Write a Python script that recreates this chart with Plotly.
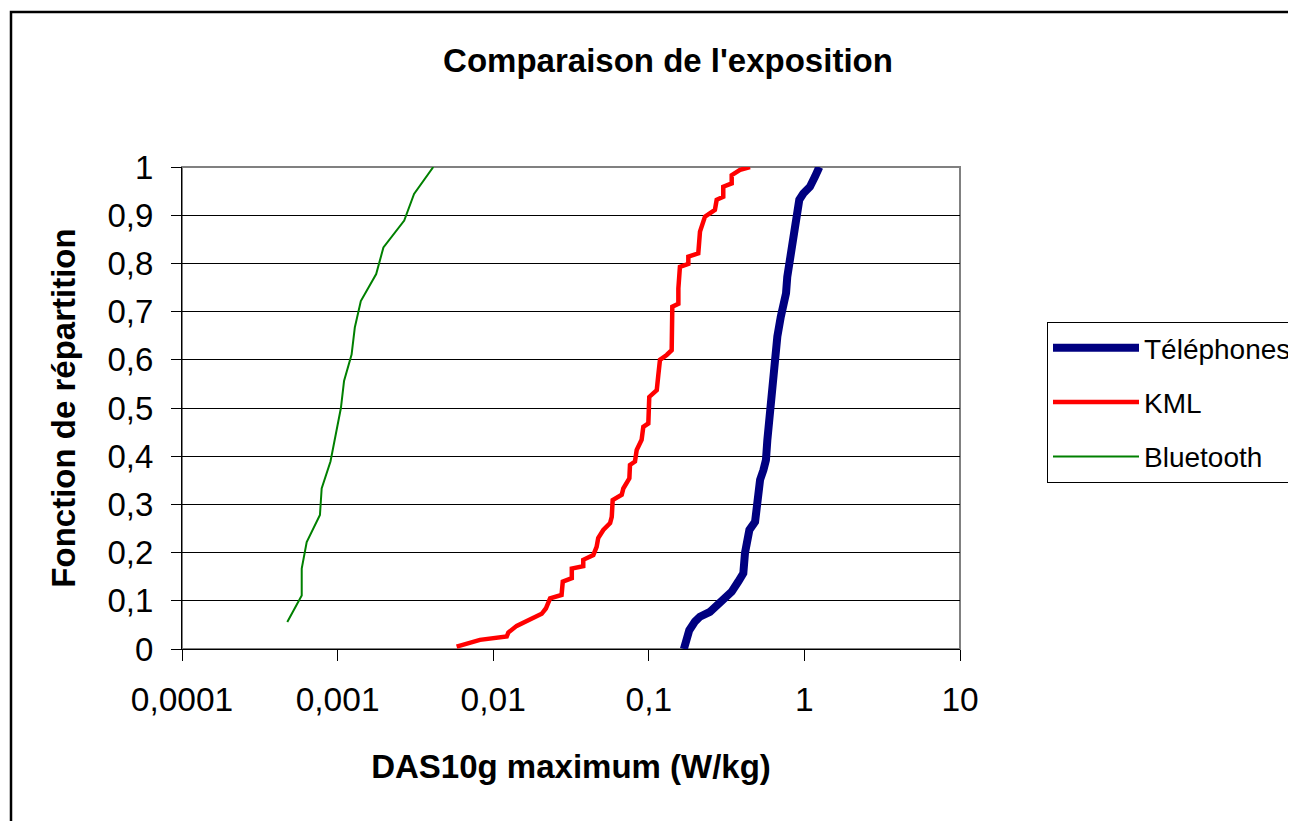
import plotly.graph_objects as go

# ---- data ----
series_names = ["Téléphones", "KML", "Bluetooth"]

tel_x = [0.168, 0.1754, 0.182, 0.198, 0.213, 0.247, 0.266, 0.301, 0.341, 0.376,
         0.405, 0.415, 0.430, 0.443, 0.482, 0.501, 0.519, 0.545, 0.566, 0.578,
         0.601, 0.617, 0.638, 0.647, 0.670, 0.705, 0.731, 0.762, 0.776, 0.800,
         0.820, 0.841, 0.871, 0.900, 0.927, 0.984, 1.086, 1.17, 1.247]
tel_y = [0.0, 0.019, 0.039, 0.057, 0.067, 0.077, 0.088, 0.102, 0.119, 0.140,
         0.157, 0.199, 0.219, 0.247, 0.264, 0.309, 0.351, 0.371, 0.392, 0.434,
         0.503, 0.544, 0.586, 0.606, 0.648, 0.689, 0.710, 0.738, 0.772, 0.800,
         0.821, 0.849, 0.880, 0.911, 0.932, 0.945, 0.959, 0.980, 1.0]

kml_x = [0.00582, 0.00822, 0.01222, 0.0125, 0.01416, 0.0172, 0.0205, 0.0218, 0.0232, 0.0275,
         0.0280, 0.0320, 0.0320, 0.0379, 0.0379, 0.0440, 0.0462, 0.0473, 0.0510, 0.0564,
         0.0578, 0.0586, 0.0670, 0.0686, 0.0750, 0.0757, 0.0815, 0.0836, 0.0899, 0.0922,
         0.0993, 0.1007, 0.1125, 0.1151, 0.118, 0.1303, 0.1403, 0.1416, 0.1549, 0.1549,
         0.1585, 0.1795, 0.1795, 0.208, 0.2133, 0.2296, 0.266, 0.273, 0.301, 0.301,
         0.341, 0.341, 0.386, 0.447]
kml_y = [0.005, 0.019, 0.026, 0.034, 0.048, 0.060, 0.073, 0.084, 0.105, 0.112,
         0.140, 0.147, 0.167, 0.172, 0.185, 0.195, 0.212, 0.230, 0.247, 0.261,
         0.274, 0.309, 0.320, 0.333, 0.354, 0.382, 0.389, 0.413, 0.434, 0.461,
         0.468, 0.523, 0.537, 0.568, 0.600, 0.610, 0.620, 0.710, 0.716, 0.748,
         0.793, 0.799, 0.814, 0.821, 0.866, 0.897, 0.911, 0.932, 0.938, 0.959,
         0.966, 0.983, 0.994, 1.0]

bt_x = [0.000475, 0.000588, 0.000588, 0.000633, 0.00077, 0.00079, 0.00090, 0.00097, 0.00105,
        0.0011, 0.00123, 0.00129, 0.00141, 0.00177, 0.00197, 0.00268, 0.0031, 0.00412]
bt_y = [0.056, 0.111, 0.167, 0.222, 0.278, 0.333, 0.389, 0.444, 0.5,
        0.556, 0.611, 0.667, 0.722, 0.778, 0.833, 0.889, 0.944, 1.0]

x_tickvals = [0.0001, 0.001, 0.01, 0.1, 1, 10]
x_ticktext = ["0,0001", "0,001", "0,01", "0,1", "1", "10"]

title_text = "Comparaison de l'exposition"
x_title = "DAS10g maximum (W/kg)"
y_title = "Fonction de répartition"

FONT = "Liberation Sans, Arial, sans-serif"

fig = go.Figure()
fig.add_trace(go.Scatter(x=tel_x, y=tel_y, mode="lines", name=series_names[0],
                         line=dict(color="#000080", width=8), legendgroup="a"))
fig.add_trace(go.Scatter(x=kml_x, y=kml_y, mode="lines", name=series_names[1],
                         line=dict(color="#FF0000", width=4.5), legendgroup="b"))
fig.add_trace(go.Scatter(x=bt_x, y=bt_y, mode="lines", name=series_names[2],
                         line=dict(color="#008000", width=2), legendgroup="c"))

# page body has an 8px margin: the figure starts at (8, 8) in the window
OFF = 8
W, H = 1296 - OFF, 821 - OFF
L, R, T, B = 182 - OFF, 960 - OFF, 167 - OFF, 649 - OFF

def px(xp):
    return (xp - OFF - L) / (R - L)

def py(yp):
    return (B - (yp - OFF)) / (B - T)

fig.update_layout(
    width=W, height=H,
    margin=dict(l=L, r=W - R, t=T, b=H - B, autoexpand=False),
    paper_bgcolor="white", plot_bgcolor="white",
    separators=",.",
    font=dict(family=FONT, color="black", size=33),
    title=dict(text="<b>" + title_text + "</b>", x=(668 - OFF) / W, xanchor="center",
               y=1 - (60 - OFF) / H, yanchor="middle", yref="container",
               font=dict(size=33, family=FONT, color="black")),
    showlegend=True,
    legend=dict(x=px(1047), y=py(322), xanchor="left", yanchor="top",
                bordercolor="black", borderwidth=1, bgcolor="white",
                font=dict(size=28, family=FONT, color="black"),
                traceorder="grouped", tracegroupgap=15, itemwidth=86),
    xaxis=dict(type="log", range=[-4, 1], tickvals=x_tickvals, ticktext=x_ticktext,
               showgrid=False, zeroline=False, showline=True, linecolor="black", linewidth=1,
               ticks="outside", ticklen=11, tickcolor="black", tickwidth=1,
               ticklabelstandoff=10,
               tickfont=dict(size=33.5, family=FONT, color="black"),
               title=dict(text="<b>" + x_title + "</b>", standoff=37,
                          font=dict(size=33, family=FONT, color="black"))),
    yaxis=dict(range=[0, 1], dtick=0.1, tick0=0,
               showgrid=True, gridcolor="black", gridwidth=1, zeroline=False,
               showline=True, linecolor="black", linewidth=1,
               ticks="outside", ticklen=10, tickcolor="black", tickwidth=1,
               ticklabelstandoff=11,
               tickfont=dict(size=33, family=FONT, color="black"),
               title=dict(text="<b>" + y_title + "</b>", standoff=21,
                          font=dict(size=33, family=FONT, color="black"))),
    shapes=[
        dict(type="rect", xref="paper", yref="paper", x0=0, x1=1, y0=0, y1=1,
             line=dict(color="#808080", width=2), layer="below"),
        dict(type="rect", xref="paper", yref="paper",
             x0=px(11), x1=px(1320), y0=py(840), y1=py(12),
             line=dict(color="black", width=2.5), layer="below"),
    ],
)

fig.write_html("out.html")
